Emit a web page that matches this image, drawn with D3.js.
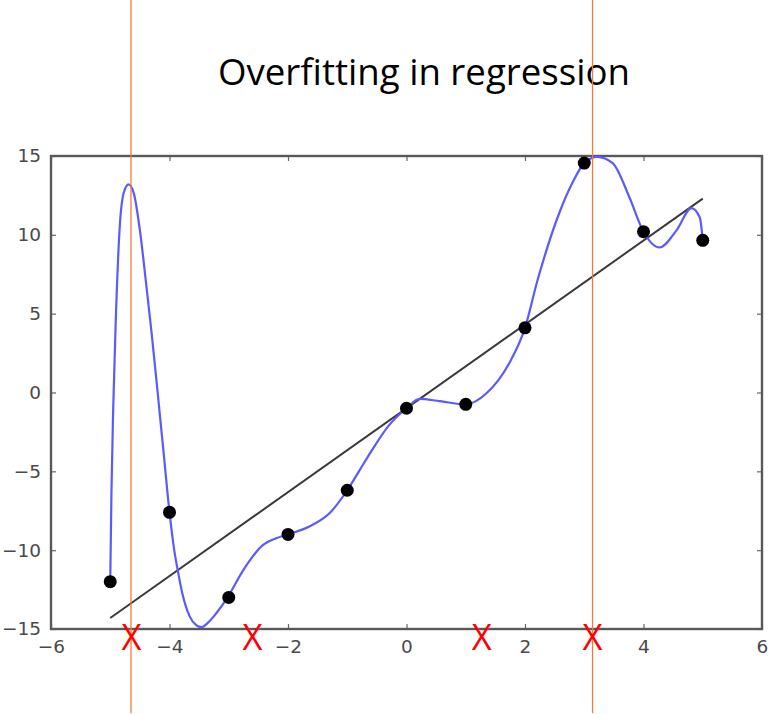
<!DOCTYPE html>
<html>
<head>
<meta charset="utf-8">
<script src="https://cdn.jsdelivr.net/npm/d3@7"></script>
<style>
  body { margin: 0; background: #fff; }
  svg { display: block; }
</style>
</head>
<body>
<div id="chart"></div>
<script>
// observed data points (black dots)
const pointX = [-5, -4, -3, -2, -1, 0, 1, 2, 3, 4, 5]
const pointY = [-12, -7.6, -13, -9, -6.2, -1, -0.75, 4.1, 14.55, 10.2, 9.65]

// overfitted curve
const curveX = [-5, -4.98, -4.95, -4.91, -4.84, -4.77, -4.69, -4.6, -4.5, -4.4, -4.3, -4.2, -4.1, -4,
  -3.92, -3.86, -3.78, -3.66, -3.55, -3.46, -3.35, -3.21, -3.02, -2.76, -2.43, -2.2, -2, -1.64, -1.3,
  -1, -0.79, -0.59, -0.3, 0, 0.22, 0.56, 1, 1.35, 1.74, 2, 2.21, 2.58, 2.8, 3, 3.22, 3.48, 3.76, 4,
  4.27, 4.56, 4.81, 4.95, 5]
const curveY = [-12, -6.4, -1, 4.2, 10.5, 12.7, 13.2, 12.6, 10.3, 7.1, 3.7, 0, -3.8, -7.6,
  -10, -11.3, -12.8, -14.2, -14.75, -14.88, -14.6, -14, -13, -11.3, -9.7, -9.25, -9, -8.5, -7.66,
  -6.2, -4.92, -3.7, -2.1, -1, -0.4, -0.55, -0.75, -0.05, 1.9, 4.1, 7.1, 11.4, 13.3, 14.55, 14.95,
  14.55, 12.4, 10.2, 9.2, 10.3, 11.7, 11.1, 9.65]

// linear fit
const fitX = [-5, 5]
const fitY = [-14.3, 12.3]

// annotations
const markX = [-4.64, -2.6, 1.27, 3.14]
const guideX = [-4.65, 3.14]

const xTicks = [-6, -4, -2, 0, 2, 4, 6]
const yTicks = [-15, -10, -5, 0, 5, 10, 15]

var width = 768
var height = 714
var margin = {top: 156, right: 6, bottom: 85, left: 51}

var svg = d3.select('#chart').append('svg')
    .attr('width', width)
    .attr('height', height)

var x = d3.scaleLinear().domain([-6, 6]).range([margin.left, width - margin.right])
var y = d3.scaleLinear().domain([-15, 15]).range([height - margin.bottom, margin.top])

// title
svg.append('text')
    .attr('x', 424)
    .attr('y', 85)
    .attr('text-anchor', 'middle')
    .attr('font-family', 'Open Sans, sans-serif')
    .attr('font-size', 36)
    .attr('textLength', 412)
    .attr('lengthAdjust', 'spacingAndGlyphs')
    .attr('fill', '#000')
    .text('Overfitting in regression')

var fmt = d => d < 0 ? '\u2212' + Math.abs(d) : String(d)

// axes with inward ticks
var plotW = x(6) - x(-6)
var plotH = y(-15) - y(15)

svg.append('g')
    .attr('transform', `translate(0,${y(-15)})`)
    .call(d3.axisBottom(x).tickValues(xTicks).tickFormat(fmt).tickSizeInner(-5).tickSizeOuter(0).tickPadding(11))
    .call(g => g.select('.domain').remove())

svg.append('g')
    .attr('transform', `translate(0,${y(15)})`)
    .call(d3.axisTop(x).tickValues(xTicks).tickFormat('').tickSizeInner(-5).tickSizeOuter(0))
    .call(g => g.select('.domain').remove())

svg.append('g')
    .attr('transform', `translate(${x(-6)},0)`)
    .call(d3.axisLeft(y).tickValues(yTicks).tickFormat(fmt).tickSizeInner(-5).tickSizeOuter(0).tickPadding(10))
    .call(g => g.select('.domain').remove())

svg.append('g')
    .attr('transform', `translate(${x(6)},0)`)
    .call(d3.axisRight(y).tickValues(yTicks).tickFormat('').tickSizeInner(-5).tickSizeOuter(0))
    .call(g => g.select('.domain').remove())

svg.selectAll('.tick line').attr('stroke', '#666').attr('stroke-width', 1.2)
svg.selectAll('.tick text')
    .attr('fill', '#4a4a4a')
    .style('font-family', 'DejaVu Sans, sans-serif')
    .style('font-size', '18.5px')

// frame
svg.append('rect')
    .attr('x', x(-6))
    .attr('y', y(15))
    .attr('width', plotW)
    .attr('height', plotH)
    .attr('fill', 'none')
    .attr('stroke', '#595959')
    .attr('stroke-width', 2.4)

// linear fit
var line = d3.line().x(d => x(d[0])).y(d => y(d[1]))
svg.append('path')
    .attr('d', line(d3.zip(fitX, fitY)))
    .attr('fill', 'none')
    .attr('stroke', '#3a3a3a')
    .attr('stroke-width', 2)

// overfitted curve
var curve = d3.line().x(d => x(d[0])).y(d => y(d[1])).curve(d3.curveMonotoneX)
svg.append('path')
    .attr('d', curve(d3.zip(curveX, curveY)))
    .attr('fill', 'none')
    .attr('stroke', '#5a5aff')
    .attr('stroke-width', 2.2)

// points
svg.selectAll('.dot')
    .data(d3.zip(pointX, pointY))
    .enter().append('circle')
    .attr('class', 'dot')
    .attr('cx', d => x(d[0]))
    .attr('cy', d => y(d[1]))
    .attr('r', 6.5)
    .attr('fill', '#000')

// orange guides
svg.selectAll('.guide')
    .data(guideX)
    .enter().append('line')
    .attr('class', 'guide')
    .attr('x1', d => x(d)).attr('x2', d => x(d))
    .attr('y1', 0).attr('y2', 713)
    .attr('stroke', '#ee7d3a')
    .attr('stroke-width', 1.3)

// red X marks
svg.selectAll('.mark')
    .data(markX)
    .enter().append('text')
    .attr('class', 'mark')
    .attr('x', d => x(d))
    .attr('y', 650)
    .attr('text-anchor', 'middle')
    .attr('font-family', 'Open Sans, sans-serif')
    .attr('font-size', 36)
    .attr('textLength', 20)
    .attr('lengthAdjust', 'spacingAndGlyphs')
    .attr('fill', '#ff0000')
    .text('X')
</script>
</body>
</html>
